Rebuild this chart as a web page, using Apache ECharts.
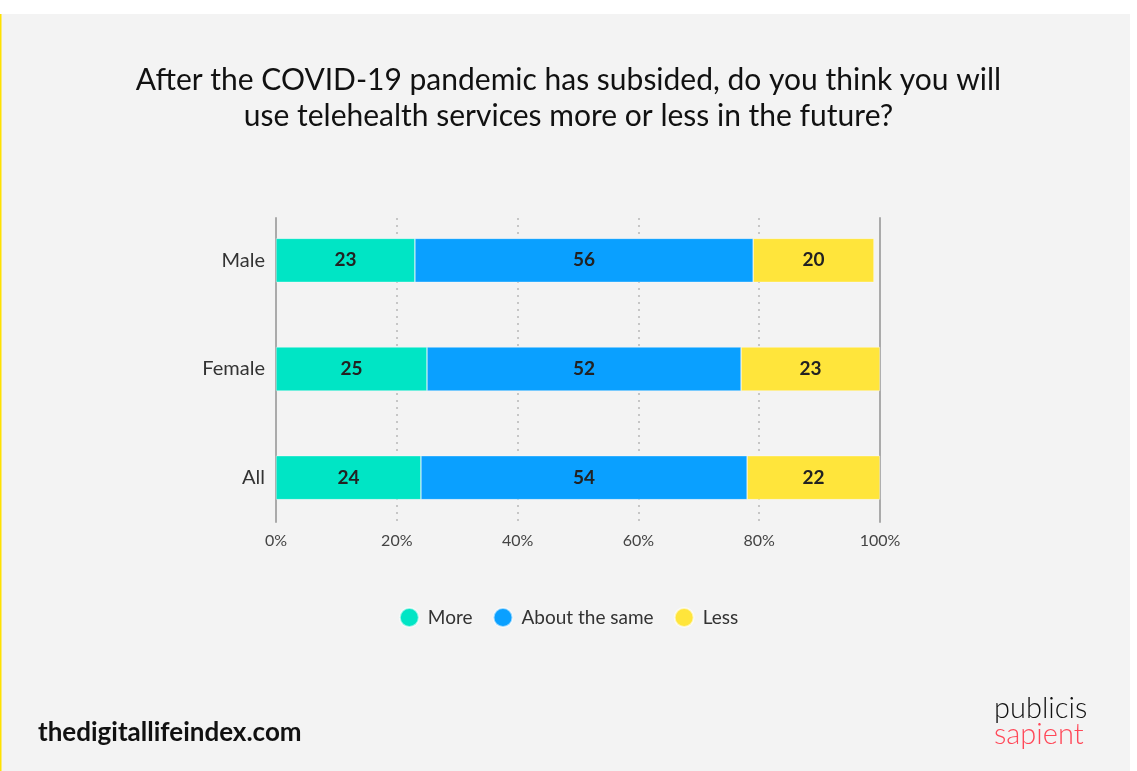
<!DOCTYPE html>
<html>
<head>
<meta charset="utf-8">
<style>
  html, body { margin: 0; padding: 0; background: #ffffff; }
  #chart { width: 1137px; height: 771px; }
</style>
<script src="https://cdn.jsdelivr.net/npm/echarts@6/dist/echarts.min.js"></script>
</head>
<body>
<div id="chart"></div>
<script>
// Survey groups, top to bottom
const categories = ['Male', 'Female', 'All'];
// Share of respondents (%) per answer
const moreValues = [23, 25, 24];
const sameValues = [56, 52, 54];
const lessValues = [20, 23, 22];
const seriesNames = ['More', 'About the same', 'Less'];
const xTicks = [0, 20, 40, 60, 80, 100];

const FONT = 'Lato, "Noto Sans", sans-serif';
const colors = ['#00e5c5', '#0aa0ff', '#ffe53b'];

const chart = echarts.init(document.getElementById('chart'));

function barSeries(name, values, color) {
  return {
    name: name,
    type: 'bar',
    stack: 'total',
    xAxisIndex: 0,
    yAxisIndex: 0,
    barWidth: 44,
    data: values,
    itemStyle: { color: color, borderColor: 'rgba(255,255,255,0.6)', borderWidth: 0.6 },
    label: {
      show: true,
      position: 'inside',
      formatter: '{c}',
      fontFamily: FONT,
      fontWeight: 'bold',
      fontSize: 19,
      color: '#222222'
    },
    emphasis: { disabled: true }
  };
}

chart.setOption({
  animation: false,
  backgroundColor: '#ffffff',
  color: colors,
  graphic: [
    { type: 'rect', z: -10, shape: { x: 0, y: 14, width: 1130, height: 757 }, style: { fill: '#f3f3f3' } },
    { type: 'rect', z: -9, shape: { x: 0, y: 14, width: 1.5, height: 757 }, style: { fill: '#ffe100' } },
    { type: 'text', left: 38, top: 720, style: { text: 'thedigitallifeindex.com', font: 'bold 26px ' + FONT, fill: '#111111' } },
    { type: 'text', left: 994, top: 694, style: { text: 'publicis', font: '300 29px ' + FONT, fill: '#111111' } },
    { type: 'text', left: 994, top: 720, style: { text: 'sapient', font: '300 29px ' + FONT, fill: '#ff4858' } }
  ],
  title: {
    text: 'After the COVID-19 pandemic has subsided, do you think you will\nuse telehealth services more or less in the future?',
    left: 'center',
    top: 57,
    textStyle: { fontFamily: FONT, fontSize: 30, fontWeight: 'normal', color: '#111111', lineHeight: 36, align: 'center' }
  },
  legend: {
    data: seriesNames,
    left: 'center',
    top: 602,
    icon: 'circle',
    itemWidth: 19,
    itemHeight: 19,
    itemGap: 20,
    textStyle: { fontFamily: FONT, fontSize: 19, color: '#333333', padding: [0, 0, 0, 4] }
  },
  grid: [
    { left: 276, right: 257, top: 206, height: 326 },
    { left: 276, right: 257, top: 218, height: 304 }
  ],
  xAxis: [
    {
      gridIndex: 0, type: 'value', min: 0, max: 100, interval: 20,
      axisLine: { show: false }, axisTick: { show: false }, axisLabel: { show: false }, splitLine: { show: false }
    },
    {
      gridIndex: 1, type: 'value', min: xTicks[0], max: xTicks[xTicks.length - 1], interval: 20,
      axisLine: { show: false }, axisTick: { show: false },
      axisLabel: { margin: 11, formatter: '{value}%', fontFamily: FONT, fontSize: 16, color: '#444444' },
      splitLine: { show: true, lineStyle: { type: [2, 5], color: '#b8b8b8', width: 1.5 } }
    }
  ],
  yAxis: [
    {
      gridIndex: 0, type: 'category', data: categories, inverse: true,
      axisLine: { show: false }, axisTick: { show: false },
      axisLabel: { margin: 11, fontFamily: FONT, fontSize: 20, color: '#333333' }
    },
    {
      gridIndex: 1, type: 'value', position: 'left',
      axisLine: { show: true, onZero: false, lineStyle: { color: '#aaaaaa', width: 2 } },
      axisTick: { show: false }, axisLabel: { show: false }, splitLine: { show: false }
    },
    {
      gridIndex: 1, type: 'value', position: 'right',
      axisLine: { show: true, onZero: false, lineStyle: { color: '#aaaaaa', width: 2 } },
      axisTick: { show: false }, axisLabel: { show: false }, splitLine: { show: false }
    }
  ],
  series: [
    barSeries(seriesNames[0], moreValues, colors[0]),
    barSeries(seriesNames[1], sameValues, colors[1]),
    barSeries(seriesNames[2], lessValues, colors[2])
  ]
});
</script>
</body>
</html>
